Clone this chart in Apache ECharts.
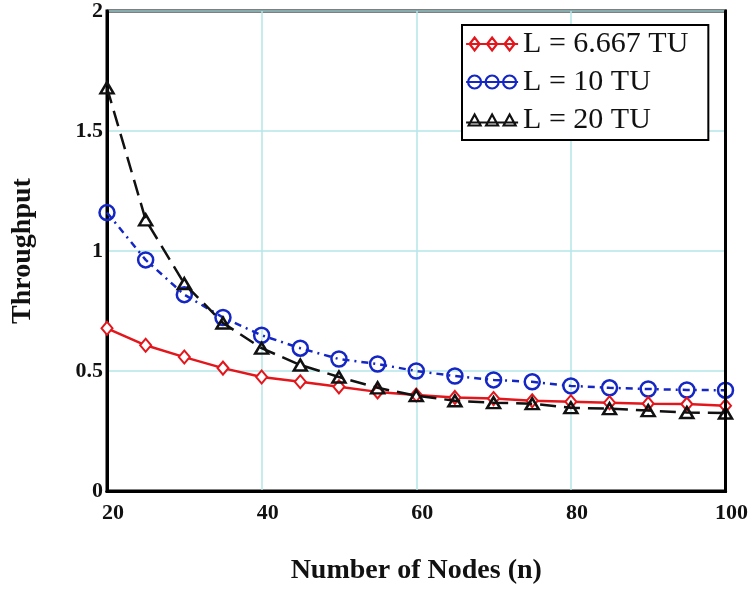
<!DOCTYPE html>
<html>
<head>
<meta charset="utf-8">
<script src="https://cdn.jsdelivr.net/npm/echarts@6/dist/echarts.min.js"></script>
<style>
  html, body { margin: 0; padding: 0; background: #fff; }
  #chart { width: 751px; height: 594px; }
</style>
</head>
<body>
<div id="chart"></div>
<script>
// Number of nodes on the horizontal axis
const nodes = [20, 25, 30, 35, 40, 45, 50, 55, 60, 65, 70, 75, 80, 85, 90, 95, 100];

// Throughput for each packet length L
const thrL6667 = [0.678, 0.607, 0.558, 0.512, 0.475, 0.455, 0.434, 0.413, 0.400, 0.390, 0.385, 0.376, 0.372, 0.368, 0.364, 0.362, 0.355];
const thrL10   = [1.16, 0.963, 0.818, 0.723, 0.649, 0.595, 0.550, 0.529, 0.500, 0.479, 0.463, 0.455, 0.438, 0.430, 0.425, 0.421, 0.420];
const thrL20   = [1.68, 1.13, 0.864, 0.700, 0.595, 0.525, 0.475, 0.430, 0.397, 0.376, 0.368, 0.364, 0.347, 0.343, 0.335, 0.327, 0.325];

const seriesNames = ['L = 6.667 TU', 'L = 10 TU', 'L = 20 TU'];

const RED = '#e3161c';
const BLUE = '#1426c4';
const BLACK = '#111111';
const SERIF = '"Liberation Serif", "Times New Roman", serif';

function pairs(ys) { return nodes.map((x, i) => [x, ys[i]]); }

// Legend swatches: a short line with three markers on it
const iconDiamonds = 'path://M0 7L52 7M3.5 7L8.5 0.5L13.5 7L8.5 13.5ZM21 7L26 0.5L31 7L26 13.5ZM38.5 7L43.5 0.5L48.5 7L43.5 13.5Z';
const iconCircles = 'path://M0 7L52 7M2 7A6.5 6.5 0 1 0 15 7A6.5 6.5 0 1 0 2 7ZM19.5 7A6.5 6.5 0 1 0 32.5 7A6.5 6.5 0 1 0 19.5 7ZM37 7A6.5 6.5 0 1 0 50 7A6.5 6.5 0 1 0 37 7Z';
const iconTriangles = 'path://M0 10L52 10M2.5 13L8.5 2L14.5 13ZM20 13L26 2L32 13ZM37.5 13L43.5 2L49.5 13Z';

const frameLine = { show: true, lineStyle: { color: '#000', width: 3 } };
const gridLine = { show: true, lineStyle: { color: '#b4e6e8', width: 1.5 } };

const chart = echarts.init(document.getElementById('chart'));
chart.setOption({
  animation: false,
  backgroundColor: '#fff',
  grid: {
    left: 107, right: 25, top: 7, bottom: 103,
    show: true, borderColor: '#000', borderWidth: 3, backgroundColor: 'transparent'
  },
  xAxis: [
    {
      type: 'value', min: 20, max: 100, interval: 20,
      name: 'Number of Nodes (n)', nameLocation: 'middle', nameGap: 66,
      nameTextStyle: { fontFamily: SERIF, fontWeight: 'bold', fontSize: 28, color: '#111' },
      axisLine: frameLine,
      axisTick: { show: false },
      axisLabel: { fontFamily: SERIF, fontWeight: 'bold', fontSize: 22, color: '#111', margin: 11, padding: [0, 0, 0, 12] },
      splitLine: gridLine
    },
    {
      type: 'value', position: 'top', min: 20, max: 100, interval: 20, z: 5,
      axisLine: frameLine, axisTick: { show: false }, axisLabel: { show: false }, splitLine: { show: false }
    }
  ],
  yAxis: [
    {
      type: 'value', min: 0, max: 2, interval: 0.5,
      name: 'Throughput', nameLocation: 'middle', nameGap: 70, nameRotate: 90,
      nameTextStyle: { fontFamily: SERIF, fontWeight: 'bold', fontSize: 28, color: '#111' },
      axisLine: frameLine,
      axisTick: { show: false },
      axisLabel: { fontFamily: SERIF, fontWeight: 'bold', fontSize: 22, color: '#111', margin: 4, padding: [4, 0, 0, 0] },
      splitLine: gridLine
    },
    {
      type: 'value', position: 'right', min: 0, max: 2, interval: 0.5, z: 5,
      axisLine: frameLine, axisTick: { show: false }, axisLabel: { show: false }, splitLine: { show: false }
    }
  ],
  legend: {
    orient: 'vertical',
    left: 462, top: 25,
    padding: [4, 20, 5, 3],
    itemGap: 8,
    itemWidth: 52, itemHeight: 14,
    backgroundColor: '#fff',
    borderColor: '#000', borderWidth: 2,
    textStyle: { fontFamily: SERIF, fontSize: 30, color: '#111' },
    data: [
      { name: seriesNames[0], icon: iconDiamonds, itemStyle: { color: '#fff', borderColor: RED, borderWidth: 2.2 } },
      { name: seriesNames[1], icon: iconCircles, itemStyle: { color: '#fff', borderColor: BLUE, borderWidth: 2.2 } },
      { name: seriesNames[2], icon: iconTriangles, itemStyle: { color: '#fff', borderColor: BLACK, borderWidth: 2.2 } }
    ]
  },
  series: [
    {
      name: seriesNames[0], type: 'line', data: pairs(thrL6667),
      symbol: 'diamond', symbolSize: [11, 13], showAllSymbol: true,
      lineStyle: { color: RED, width: 2.5, type: 'solid' },
      itemStyle: { color: '#fff', borderColor: RED, borderWidth: 2 },
      z: 3
    },
    {
      name: seriesNames[1], type: 'line', data: pairs(thrL10),
      symbol: 'circle', symbolSize: 15, showAllSymbol: true,
      lineStyle: { color: BLUE, width: 2.5, type: [7, 5, 2, 5] },
      itemStyle: { color: 'transparent', borderColor: BLUE, borderWidth: 2.5 },
      z: 2
    },
    {
      name: seriesNames[2], type: 'line', data: pairs(thrL20),
      symbol: 'triangle', symbolSize: [13, 11], showAllSymbol: true,
      lineStyle: { color: BLACK, width: 2.5, type: [16, 8] },
      itemStyle: { color: 'transparent', borderColor: BLACK, borderWidth: 2.5 },
      z: 4
    }
  ]
});
</script>
</body>
</html>
